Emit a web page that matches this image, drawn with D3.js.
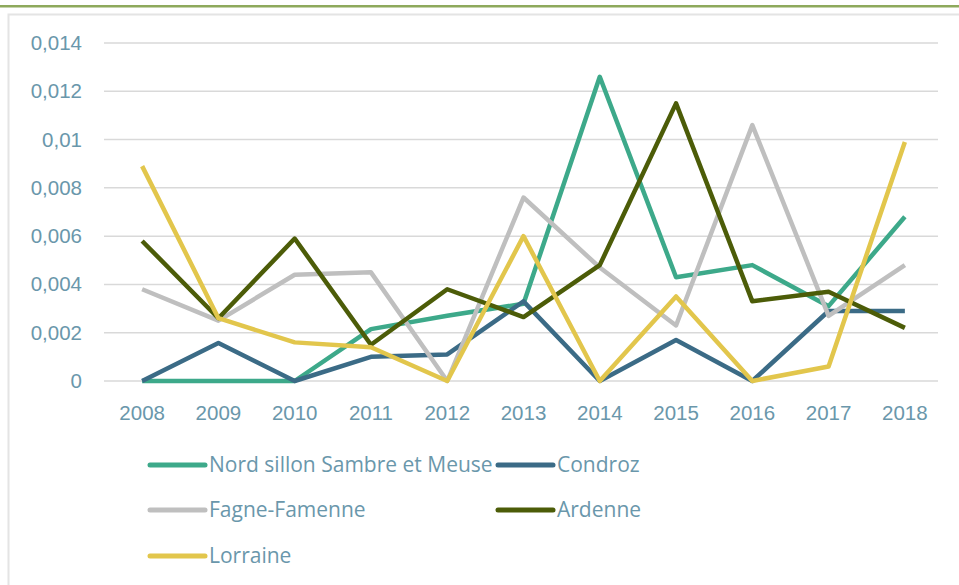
<!DOCTYPE html>
<meta charset="utf-8">
<script src="https://d3js.org/d3.v7.min.js"></script>
<style>
body { margin: 0; background: #fff; }
svg { font-family: "Open Sans", sans-serif; }
.tick text { fill: #6a97ab; font-size: 20.5px; }
.legend text { fill: #6a97ab; font-size: 21px; }
</style>
<div id="chart"></div>
<script>
var years = ["2008","2009","2010","2011","2012","2013","2014","2015","2016","2017","2018"];
var seriesNames = ["Nord sillon Sambre et Meuse", "Condroz", "Fagne-Famenne", "Ardenne", "Lorraine"];
var colors = ["#3da98a", "#3b6b86", "#bfbfbf", "#4c5c08", "#e2c64c"];
var nord     = [0, 0, 0, 0.00215, 0.0027, 0.0032, 0.0126, 0.0043, 0.0048, 0.0031, 0.0068];
var condroz  = [0, 0.00157, 0, 0.001, 0.0011, 0.0033, 0, 0.0017, 0, 0.0029, 0.0029];
var fagne    = [0.0038, 0.0025, 0.0044, 0.0045, 0, 0.0076, 0.0047, 0.0023, 0.0106, 0.0027, 0.0048];
var ardenne  = [0.0058, 0.0026, 0.0059, 0.0015, 0.0038, 0.00265, 0.0048, 0.0115, 0.0033, 0.0037, 0.0022];
var lorraine = [0.0089, 0.0026, 0.0016, 0.0014, 0, 0.006, 0, 0.0035, 0, 0.0006, 0.0099];
var yTicks = [0, 0.002, 0.004, 0.006, 0.008, 0.01, 0.012, 0.014];

var allSeries = [nord, condroz, fagne, ardenne, lorraine];
var W = 959, H = 585;
var svg = d3.select("#chart").append("svg").attr("width", W).attr("height", H);

// top green rule and frame
svg.append("rect").attr("x", 0).attr("y", 5).attr("width", W).attr("height", 2.5).attr("fill", "#8ea95c");
svg.append("rect").attr("x", 8.5).attr("y", 14.5).attr("width", W).attr("height", H)
  .attr("fill", "none").attr("stroke", "#e4e4e4").attr("stroke-width", 2);

var x = d3.scaleBand().domain(years).range([104, 943]);
var y = d3.scaleLinear().domain([0, 0.014]).range([381, 43]);

// gridlines
svg.append("g").selectAll("line").data(yTicks).enter().append("line")
  .attr("x1", 104).attr("x2", 938)
  .attr("y1", function(d){ return y(d); }).attr("y2", function(d){ return y(d); })
  .attr("stroke", "#d9d9d9").attr("stroke-width", 1.5);

var yAxis = svg.append("g").attr("transform", "translate(89,0)")
  .call(d3.axisLeft(y).tickValues(yTicks).tickSize(0).tickPadding(7)
    .tickFormat(function(d){ return d === 0 ? "0" : String(+d.toFixed(3)).replace(".", ","); }));
yAxis.select(".domain").remove();

var xAxis = svg.append("g").attr("transform", "translate(0,401)")
  .call(d3.axisBottom(x).tickSize(0).tickPadding(4));
xAxis.select(".domain").remove();

var line = d3.line()
  .x(function(d, i){ return x(years[i]) + x.bandwidth() / 2; })
  .y(function(d){ return y(d); });

allSeries.forEach(function(s, k) {
  svg.append("path").datum(s)
    .attr("d", line)
    .attr("fill", "none")
    .attr("stroke", colors[k])
    .attr("stroke-width", 4.5)
    .attr("stroke-linejoin", "round");
});

// legend
var legPos = [[150, 465], [498, 465], [150, 510], [498, 510], [150, 556]];
var leg = svg.append("g").attr("class", "legend");
seriesNames.forEach(function(name, k) {
  var p = legPos[k];
  leg.append("line").attr("x1", p[0]).attr("x2", p[0] + 55)
    .attr("y1", p[1]).attr("y2", p[1])
    .attr("stroke", colors[k]).attr("stroke-width", 5).attr("stroke-linecap", "round");
  leg.append("text").attr("x", p[0] + 59).attr("y", p[1]).attr("dy", "0.35em").text(name);
});
</script>
